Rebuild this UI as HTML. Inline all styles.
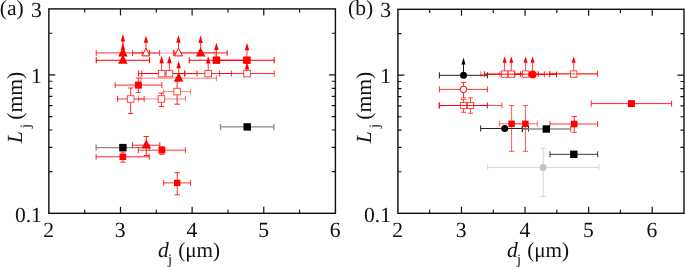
<!DOCTYPE html>
<html><head><meta charset="utf-8"><title>Lj vs dj</title>
<style>
html,body{margin:0;padding:0;background:#fff;}
body{width:685px;height:267px;overflow:hidden;}
svg{display:block;}
text{font-family:"Liberation Serif",serif;fill:#111;text-rendering:geometricPrecision;}
</style></head><body>
<svg width="685" height="267" viewBox="0 0 685 267">
<rect width="685" height="267" fill="#fff"/>
<path d="M96.1 147.6H149.3M96.1 144.6v6M149.3 144.6v6" stroke="#8c8c8c" stroke-width="1.3" fill="none" opacity="1"/>
<path d="M220.5 126.9H273.8M220.5 123.9v6M273.8 123.9v6" stroke="#8c8c8c" stroke-width="1.3" fill="none" opacity="1"/>
<path d="M117.5 99H144.2M117.5 96.0v6M144.2 96.0v6" stroke="#ff0000" stroke-width="1.0" fill="none" opacity="0.8"/>
<path d="M130.7 88V113.5M127.99999999999999 88h5.4M127.99999999999999 113.5h5.4" stroke="#ff0000" stroke-width="1.0" fill="none" opacity="0.85"/>
<path d="M138.5 99H185.5M138.5 96.0v6M185.5 96.0v6" stroke="#ff0000" stroke-width="1.0" fill="none" opacity="0.5"/>
<path d="M161.4 93V106.5M158.70000000000002 93h5.4M158.70000000000002 106.5h5.4" stroke="#ff0000" stroke-width="1.0" fill="none" opacity="0.85"/>
<path d="M163.6 91.6H190.6M163.6 88.6v6M190.6 88.6v6" stroke="#ff0000" stroke-width="1.0" fill="none" opacity="0.5"/>
<path d="M177.1 81.2V104.2M174.4 81.2h5.4M174.4 104.2h5.4" stroke="#ff0000" stroke-width="1.0" fill="none" opacity="0.85"/>
<path d="M141.2 78.2H216.4M141.2 75.2v6M216.4 75.2v6" stroke="#ff0000" stroke-width="1.0" fill="none" opacity="0.5"/>
<path d="M142 53H215M142 50.0v6M215 50.0v6" stroke="#ff0000" stroke-width="1.0" fill="none" opacity="0.4"/>
<path d="M132.5 53H159.6M132.5 50.0v6M159.6 50.0v6" stroke="#ff0000" stroke-width="1.0" fill="none" opacity="0.75"/>
<path d="M96.2 52.9H149.5M96.2 49.9v6M149.5 49.9v6" stroke="#ff0000" stroke-width="1.0" fill="none" opacity="0.8"/>
<path d="M96.2 60.2H149.5M96.2 57.2v6M149.5 57.2v6" stroke="#ff0000" stroke-width="1.1" fill="none" opacity="1"/>
<path d="M174 52.9H227.2M174 49.9v6M227.2 49.9v6" stroke="#ff0000" stroke-width="1.0" fill="none" opacity="0.9"/>
<path d="M173.4 50.0v6" stroke="#ff0000" stroke-width="1.0" fill="none" opacity="0.6"/>
<path d="M189.2 60.2H243.7M189.2 57.2v6M243.7 57.2v6" stroke="#ff0000" stroke-width="1.1" fill="none" opacity="1"/>
<path d="M219.6 60.2H274.2M219.6 57.2v6M274.2 57.2v6" stroke="#ff0000" stroke-width="1.1" fill="none" opacity="1"/>
<path d="M138.6 73.5H184.6M138.6 70.5v6M184.6 70.5v6" stroke="#ff0000" stroke-width="1.0" fill="none" opacity="0.9"/>
<path d="M141.8 73.5H197M141.8 70.5v6M197 70.5v6" stroke="#ff0000" stroke-width="1.0" fill="none" opacity="0.9"/>
<path d="M185 73.5H231.4M185 70.5v6M231.4 70.5v6" stroke="#ff0000" stroke-width="1.0" fill="none" opacity="0.8"/>
<path d="M219.6 73.5H274.2M219.6 70.5v6M274.2 70.5v6" stroke="#ff0000" stroke-width="1.0" fill="none" opacity="0.8"/>
<path d="M115.2 85.1H161.9M115.2 82.1v6M161.9 82.1v6" stroke="#ff0000" stroke-width="1.0" fill="none" opacity="0.85"/>
<path d="M138.4 78V92.4M135.70000000000002 78h5.4M135.70000000000002 92.4h5.4" stroke="#ff0000" stroke-width="1.0" fill="none" opacity="0.8"/>
<path d="M96.1 156.8H149.3M96.1 153.8v6M149.3 153.8v6" stroke="#ff0000" stroke-width="1.0" fill="none" opacity="0.85"/>
<path d="M122.9 152V162.2M120.2 152h5.4M120.2 162.2h5.4" stroke="#ff0000" stroke-width="1.0" fill="none" opacity="0.8"/>
<path d="M138.3 150.2H185.4M138.3 147.2v6M185.4 147.2v6" stroke="#ff0000" stroke-width="1.0" fill="none" opacity="0.8"/>
<path d="M161.9 146.7V154.6M159.20000000000002 146.7h5.4M159.20000000000002 154.6h5.4" stroke="#ff0000" stroke-width="1.0" fill="none" opacity="0.7"/>
<path d="M163.7 182.9H190.6M163.7 179.9v6M190.6 179.9v6" stroke="#ff0000" stroke-width="1.0" fill="none" opacity="0.8"/>
<path d="M177.2 172.7V194.8M174.5 172.7h5.4M174.5 194.8h5.4" stroke="#ff0000" stroke-width="1.0" fill="none" opacity="0.85"/>
<path d="M132.5 145.2H159.8M132.5 142.2v6M159.8 142.2v6" stroke="#ff0000" stroke-width="1.0" fill="none" opacity="0.85"/>
<path d="M146.3 136.5V155.5M143.60000000000002 136.5h5.4M143.60000000000002 155.5h5.4" stroke="#ff0000" stroke-width="1.0" fill="none" opacity="0.85"/>
<path d="M122.9 60.2V49.5" stroke="#ff0000" stroke-width="0.78" fill="none"/>
<path d="M122.9 42.6L125.15 50.0H120.65Z" fill="#ff0000"/>
<path d="M122.9 52.9V41.0" stroke="#ff0000" stroke-width="0.78" fill="none"/>
<path d="M122.9 34.1L125.15 41.5H120.65Z" fill="#ff0000"/>
<path d="M146 52.9V42.3" stroke="#ff0000" stroke-width="0.78" fill="none"/>
<path d="M146 35.4L148.25 42.8H143.75Z" fill="#ff0000"/>
<path d="M178.5 52.9V42.199999999999996" stroke="#ff0000" stroke-width="0.78" fill="none"/>
<path d="M178.5 35.3L180.75 42.699999999999996H176.25Z" fill="#ff0000"/>
<path d="M200.6 52.9V42.5" stroke="#ff0000" stroke-width="0.78" fill="none"/>
<path d="M200.6 35.6L202.85 43.0H198.35Z" fill="#ff0000"/>
<path d="M216.4 60.2V49.6" stroke="#ff0000" stroke-width="0.78" fill="none"/>
<path d="M216.4 42.7L218.65 50.1H214.15Z" fill="#ff0000"/>
<path d="M161.6 73.5V62.699999999999996" stroke="#ff0000" stroke-width="0.78" fill="none"/>
<path d="M161.6 55.8L163.85 63.199999999999996H159.35Z" fill="#ff0000"/>
<path d="M169.4 73.5V62.699999999999996" stroke="#ff0000" stroke-width="0.78" fill="none"/>
<path d="M169.4 55.8L171.65 63.199999999999996H167.15Z" fill="#ff0000"/>
<path d="M208.2 73.5V63.1" stroke="#ff0000" stroke-width="0.78" fill="none"/>
<path d="M208.2 56.2L210.45 63.6H205.95Z" fill="#ff0000"/>
<path d="M247.0 73.5V68.9" stroke="#ff0000" stroke-width="0.78" fill="none"/>
<path d="M247.0 62.0L249.25 69.4H244.75Z" fill="#ff0000"/>
<path d="M247.0 60.2V49.699999999999996" stroke="#ff0000" stroke-width="0.78" fill="none"/>
<path d="M247.0 42.8L249.25 50.199999999999996H244.75Z" fill="#ff0000"/>
<path d="M178.7 78V67.7" stroke="#ff0000" stroke-width="0.78" fill="none"/>
<path d="M178.7 60.8L180.95 68.2H176.45Z" fill="#ff0000"/>
<rect x="127.40" y="95.70" width="6.6" height="6.6" fill="#fff" stroke="#ff4848" stroke-width="1.0"/>
<rect x="158.10" y="95.70" width="6.6" height="6.6" fill="#fff" stroke="#ff4848" stroke-width="1.0"/>
<rect x="173.80" y="88.30" width="6.6" height="6.6" fill="#fff" stroke="#ff4848" stroke-width="1.0"/>
<rect x="158.30" y="70.30" width="6.6" height="6.6" fill="#fff" stroke="#ff2a2a" stroke-width="0.9"/>
<rect x="166.10" y="70.30" width="6.6" height="6.6" fill="#fff" stroke="#ff2a2a" stroke-width="0.9"/>
<rect x="204.90" y="70.30" width="6.6" height="6.6" fill="#fff" stroke="#ff2a2a" stroke-width="0.9"/>
<rect x="243.70" y="70.30" width="6.6" height="6.6" fill="#fff" stroke="#ff2a2a" stroke-width="0.9"/>
<path d="M178.7 72.4L183.5 81.6H173.89999999999998Z" fill="#ff0000"/>
<path d="M146 48.1L149.9 55.9H142.1Z" fill="#fff" stroke="#ff0000" stroke-width="1.0"/>
<path d="M178.5 48.1L182.4 55.9H174.6Z" fill="#fff" stroke="#ff0000" stroke-width="1.0"/>
<path d="M122.9 54.6L127.7 63.800000000000004H118.10000000000001Z" fill="#ff0000"/>
<path d="M122.9 47.3L127.7 56.5H118.10000000000001Z" fill="#ff0000"/>
<path d="M200.6 47.3L205.4 56.5H195.79999999999998Z" fill="#ff0000"/>
<rect x="212.70" y="56.50" width="7.4" height="7.4" fill="#ff0000"/>
<rect x="243.30" y="56.50" width="7.4" height="7.4" fill="#ff0000"/>
<rect x="134.90" y="81.60" width="7.0" height="7.0" fill="#ff0000"/>
<rect x="119.20" y="143.90" width="7.4" height="7.4" fill="#000"/>
<rect x="119.60" y="153.50" width="6.6" height="6.6" fill="#ff0000"/>
<path d="M146.3 139.4L151.10000000000002 148.6H141.5Z" fill="#ff0000"/>
<rect x="158.50" y="146.80" width="6.8" height="6.8" fill="#ff0000"/>
<rect x="174.00" y="179.70" width="6.4" height="6.4" fill="#ff0000"/>
<rect x="243.50" y="123.20" width="7.4" height="7.4" fill="#000"/>
<rect x="48.85" y="8.9" width="286.55" height="204.40" fill="none" stroke="#141414" stroke-width="1.45"/>
<path d="M84.67 213.3v-3.6M84.67 8.9v3.6M120.49 213.3v-6.5M120.49 8.9v6.5M156.31 213.3v-3.6M156.31 8.9v3.6M192.12 213.3v-6.5M192.12 8.9v6.5M227.94 213.3v-3.6M227.94 8.9v3.6M263.76 213.3v-6.5M263.76 8.9v6.5M299.58 213.3v-3.6M299.58 8.9v3.6M48.85 171.64h3.6M335.4 171.64h-3.6M48.85 147.28h3.6M335.4 147.28h-3.6M48.85 129.99h3.6M335.4 129.99h-3.6M48.85 116.58h3.6M335.4 116.58h-3.6M48.85 105.62h3.6M335.4 105.62h-3.6M48.85 96.36h3.6M335.4 96.36h-3.6M48.85 88.33h3.6M335.4 88.33h-3.6M48.85 81.25h3.6M335.4 81.25h-3.6M48.85 74.92h6.5M335.4 74.92h-6.5M48.85 33.27h3.6M335.4 33.27h-3.6" stroke="#141414" stroke-width="1.2" fill="none"/>
<path d="M487.6 167.4H598.8M487.6 164.4v6M598.8 164.4v6" stroke="#d2d2d2" stroke-width="0.9" fill="none" opacity="1"/>
<path d="M543.2 148.2V196.5M540.5 148.2h5.4M540.5 196.5h5.4" stroke="#d2d2d2" stroke-width="0.9" fill="none" opacity="1"/>
<circle cx="543.2" cy="167.4" r="3.4" fill="#c4c4c4"/>
<path d="M439.4 75.3H487.4M439.4 72.3v6M487.4 72.3v6" stroke="#222" stroke-width="1.0" fill="none" opacity="1"/>
<path d="M480.7 128.5H528.5M480.7 125.5v6M528.5 125.5v6" stroke="#222" stroke-width="1.0" fill="none" opacity="1"/>
<path d="M522.3 129H570.7M522.3 126.0v6M570.7 126.0v6" stroke="#8c8c8c" stroke-width="1.3" fill="none" opacity="1"/>
<path d="M522.3 126.0v6" stroke="#222" stroke-width="1.0" fill="none" opacity="1"/>
<path d="M550 154.3H597.7M550 151.3v6M597.7 151.3v6" stroke="#222" stroke-width="0.9" fill="none" opacity="1"/>
<path d="M480.7 74.2H529M480.7 71.2v6M529 71.2v6" stroke="#ff0000" stroke-width="1.0" fill="none" opacity="0.5"/>
<path d="M484.6 74.2H538.3M484.6 71.2v6M538.3 71.2v6" stroke="#ff0000" stroke-width="1.0" fill="none" opacity="0.9"/>
<path d="M506.9 74.2H544.4M506.9 71.2v6M544.4 71.2v6" stroke="#ff0000" stroke-width="1.0" fill="none" opacity="0.8"/>
<path d="M508.9 74.4H556.5M508.9 71.4v6M556.5 71.4v6" stroke="#ff0000" stroke-width="1.0" fill="none" opacity="0.9"/>
<path d="M549.9 73.8H597.5M549.9 70.8v6M597.5 70.8v6" stroke="#ff0000" stroke-width="1.0" fill="none" opacity="0.8"/>
<path d="M499.8 71.2v6" stroke="#ff0000" stroke-width="1.0" fill="none" opacity="0.5"/>
<path d="M515.1 71.2v6" stroke="#ff0000" stroke-width="1.0" fill="none" opacity="0.5"/>
<path d="M520.6 71.2v6" stroke="#ff0000" stroke-width="1.0" fill="none" opacity="0.9"/>
<path d="M549.5 71.2v6" stroke="#ff0000" stroke-width="1.0" fill="none" opacity="0.5"/>
<path d="M439.4 89.4H487.4M439.4 86.4v6M487.4 86.4v6" stroke="#ff0000" stroke-width="1.0" fill="none" opacity="0.8"/>
<path d="M463.5 82.4V97.9M460.8 82.4h5.4M460.8 97.9h5.4" stroke="#ff0000" stroke-width="1.0" fill="none" opacity="0.8"/>
<path d="M439.4 105.5H487.4M439.4 102.5v6M487.4 102.5v6" stroke="#ff0000" stroke-width="1.1" fill="none" opacity="0.9"/>
<path d="M463.5 99.6V112.3M460.8 99.6h5.4M460.8 112.3h5.4" stroke="#ff0000" stroke-width="1.0" fill="none" opacity="0.7"/>
<path d="M439.1 105.5H501.9M439.1 102.5v6M501.9 102.5v6" stroke="#ff0000" stroke-width="1.0" fill="none" opacity="0.7"/>
<path d="M470.5 97.9V113.2M467.8 97.9h5.4M467.8 113.2h5.4" stroke="#ff0000" stroke-width="1.0" fill="none" opacity="0.7"/>
<path d="M499.4 123.8H523.9M499.4 120.8v6M523.9 120.8v6" stroke="#ff0000" stroke-width="1.0" fill="none" opacity="0.6"/>
<path d="M511.6 105.6V151.3M508.90000000000003 105.6h5.4M508.90000000000003 151.3h5.4" stroke="#ff0000" stroke-width="1.0" fill="none" opacity="0.65"/>
<path d="M513.6 123.8H537.3M513.6 120.8v6M537.3 120.8v6" stroke="#ff0000" stroke-width="1.0" fill="none" opacity="0.6"/>
<path d="M525.4 105.6V151.3M522.6999999999999 105.6h5.4M522.6999999999999 151.3h5.4" stroke="#ff0000" stroke-width="1.0" fill="none" opacity="0.65"/>
<path d="M550 124H597.6M550 121.0v6M597.6 121.0v6" stroke="#ff0000" stroke-width="1.0" fill="none" opacity="0.8"/>
<path d="M574.2 116.5V132.3M571.5 116.5h5.4M571.5 132.3h5.4" stroke="#ff0000" stroke-width="1.0" fill="none" opacity="0.8"/>
<path d="M591.3 103.6H671.6M591.3 100.6v6M671.6 100.6v6" stroke="#ff0000" stroke-width="1.0" fill="none" opacity="0.85"/>
<path d="M463.5 75.3V63.900000000000006" stroke="#000" stroke-width="0.9" fill="none"/>
<path d="M463.5 57.6L465.5 64.4H461.5Z" fill="#000"/>
<path d="M504.6 74.2V62.300000000000004" stroke="#ff0000" stroke-width="0.75" fill="none"/>
<path d="M504.6 56.2L506.6 62.800000000000004H502.6Z" fill="#ff0000"/>
<path d="M511.3 74.2V62.300000000000004" stroke="#ff0000" stroke-width="0.75" fill="none"/>
<path d="M511.3 56.2L513.3 62.800000000000004H509.3Z" fill="#ff0000"/>
<path d="M525.6 74.2V62.300000000000004" stroke="#ff0000" stroke-width="0.75" fill="none"/>
<path d="M525.6 56.2L527.6 62.800000000000004H523.6Z" fill="#ff0000"/>
<path d="M532.6 74.2V62.300000000000004" stroke="#ff0000" stroke-width="0.75" fill="none"/>
<path d="M532.6 56.2L534.6 62.800000000000004H530.6Z" fill="#ff0000"/>
<path d="M573.7 74.2V62.300000000000004" stroke="#ff0000" stroke-width="0.75" fill="none"/>
<path d="M573.7 56.2L575.7 62.800000000000004H571.7Z" fill="#ff0000"/>
<rect x="501.40" y="70.90" width="6.4" height="6.4" fill="#fff" stroke="#ff4040" stroke-width="1.0"/>
<rect x="508.10" y="70.90" width="6.4" height="6.4" fill="#fff" stroke="#ff4040" stroke-width="1.0"/>
<rect x="522.40" y="70.90" width="6.4" height="6.4" fill="#fff" stroke="#ff4040" stroke-width="1.0"/>
<rect x="570.50" y="70.90" width="6.4" height="6.4" fill="#fff" stroke="#ff4040" stroke-width="1.0"/>
<path d="M484.6 74.2H556.5" stroke="#ff0000" stroke-width="1" opacity=".9" fill="none"/>
<path d="M549.9 73.9H597.5" stroke="#ff0000" stroke-width="1" opacity=".55" fill="none"/>
<circle cx="532.6" cy="74.4" r="3.9" fill="#ff0000"/>
<circle cx="463.5" cy="75.3" r="3.5" fill="#000"/>
<circle cx="463.5" cy="89.4" r="3.3" fill="#fff" stroke="#ff0000" stroke-width="1.0"/>
<rect x="460.40" y="102.40" width="6.2" height="6.2" fill="#fff" stroke="#ff4040" stroke-width="1.0"/>
<rect x="467.40" y="102.40" width="6.2" height="6.2" fill="#fff" stroke="#ff4040" stroke-width="1.0"/>
<path d="M439.4 105.5H487.4" stroke="#ff0000" stroke-width="1" opacity=".85" fill="none"/>
<rect x="508.40" y="120.60" width="6.4" height="6.4" fill="#ff0000"/>
<rect x="522.20" y="120.60" width="6.4" height="6.4" fill="#ff0000"/>
<rect x="570.90" y="120.70" width="6.6" height="6.6" fill="#ff0000"/>
<rect x="627.90" y="100.10" width="7.0" height="7.0" fill="#ff0000"/>
<circle cx="504.7" cy="128.5" r="3.5" fill="#000"/>
<rect x="542.60" y="125.30" width="7.4" height="7.4" fill="#000"/>
<rect x="570.10" y="150.60" width="7.4" height="7.4" fill="#000"/>
<rect x="397.9" y="9.3" width="286.10" height="204.00" fill="none" stroke="#141414" stroke-width="1.45"/>
<path d="M429.69 213.3v-3.6M429.69 9.3v3.6M461.48 213.3v-6.5M461.48 9.3v6.5M493.27 213.3v-3.6M493.27 9.3v3.6M525.06 213.3v-6.5M525.06 9.3v6.5M556.84 213.3v-3.6M556.84 9.3v3.6M588.63 213.3v-6.5M588.63 9.3v6.5M620.42 213.3v-3.6M620.42 9.3v3.6M652.21 213.3v-6.5M652.21 9.3v6.5M397.9 171.73h3.6M684.0 171.73h-3.6M397.9 147.41h3.6M684.0 147.41h-3.6M397.9 130.15h3.6M684.0 130.15h-3.6M397.9 116.77h3.6M684.0 116.77h-3.6M397.9 105.83h3.6M684.0 105.83h-3.6M397.9 96.59h3.6M684.0 96.59h-3.6M397.9 88.58h3.6M684.0 88.58h-3.6M397.9 81.51h3.6M684.0 81.51h-3.6M397.9 75.19h6.5M684.0 75.19h-6.5M397.9 33.62h3.6M684.0 33.62h-3.6" stroke="#141414" stroke-width="1.2" fill="none"/>
<text x="-0.2" y="15.3" font-size="21.6" text-anchor="start">(a)</text>
<text x="348.0" y="15.3" font-size="21.6" text-anchor="start">(b)</text>
<text x="41.9" y="17.1" font-size="21.6" text-anchor="end">3</text>
<text x="41.9" y="83.0" font-size="21.6" text-anchor="end">1</text>
<text x="41.9" y="221.7" font-size="21.6" text-anchor="end">0.1</text>
<text x="48.65" y="236.5" font-size="21.6" text-anchor="middle">2</text>
<text x="120.27" y="236.5" font-size="21.6" text-anchor="middle">3</text>
<text x="191.90" y="236.5" font-size="21.6" text-anchor="middle">4</text>
<text x="263.53" y="236.5" font-size="21.6" text-anchor="middle">5</text>
<text x="335.15" y="236.5" font-size="21.6" text-anchor="middle">6</text>
<text x="391.0" y="17.1" font-size="21.6" text-anchor="end">3</text>
<text x="391.0" y="83.0" font-size="21.6" text-anchor="end">1</text>
<text x="391.0" y="221.7" font-size="21.6" text-anchor="end">0.1</text>
<text x="397.70" y="236.5" font-size="21.6" text-anchor="middle">2</text>
<text x="461.25" y="236.5" font-size="21.6" text-anchor="middle">3</text>
<text x="524.80" y="236.5" font-size="21.6" text-anchor="middle">4</text>
<text x="588.35" y="236.5" font-size="21.6" text-anchor="middle">5</text>
<text x="651.90" y="236.5" font-size="21.6" text-anchor="middle">6</text>
<text x="158.0" y="257.4" font-size="21.6" text-anchor="start" font-style="italic">d</text>
<text x="168.0" y="263.8" font-size="14.5" text-anchor="start">j</text>
<text x="178.2" y="257.4" font-size="21.2" text-anchor="start">(μm)</text>
<text x="507.0" y="257.4" font-size="21.6" text-anchor="start" font-style="italic">d</text>
<text x="517.0" y="263.8" font-size="14.5" text-anchor="start">j</text>
<text x="527.2" y="257.4" font-size="21.2" text-anchor="start">(μm)</text>
<g transform="translate(21.5 143.3) rotate(-90)"><text x="0" y="0" font-size="21.6" font-style="italic">L</text><text x="15.3" y="8.6" font-size="14.5">j</text><text x="23.6" y="0" font-size="21.6">(mm)</text></g>
<g transform="translate(370.5 143.3) rotate(-90)"><text x="0" y="0" font-size="21.6" font-style="italic">L</text><text x="15.3" y="8.6" font-size="14.5">j</text><text x="23.6" y="0" font-size="21.6">(mm)</text></g>
</svg>
</body></html>
